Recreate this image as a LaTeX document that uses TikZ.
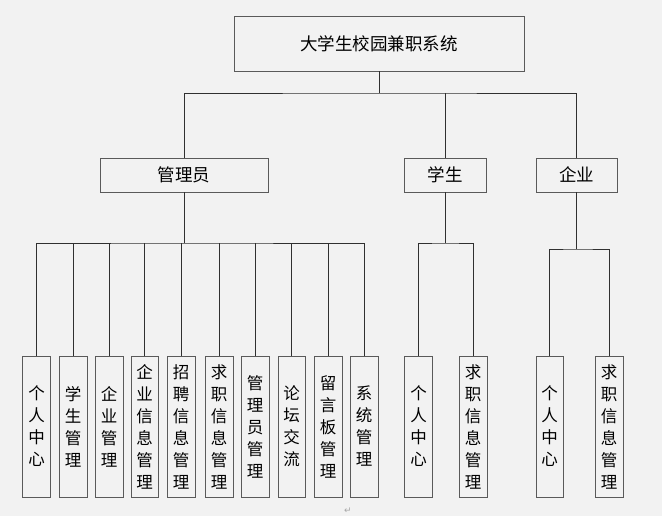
\documentclass[tikz,border=0pt]{standalone}
\usepackage{fontspec}
\setmainfont{Noto Sans CJK SC}
\newfontfamily\symfont{DejaVu Sans}
\definecolor{bg}{HTML}{F2F2F2}
\definecolor{boxline}{HTML}{5A5A5A}
\definecolor{conn}{HTML}{303030}
\begin{document}
\begin{tikzpicture}[x=1pt,y=1pt,
  box/.style={draw=boxline, line width=0.9pt, inner sep=0pt, align=center},
  head/.style={box, font=\fontsize{17.5}{20}\selectfont},
  leaf/.style={box, minimum width=28, minimum height=141, font=\fontsize{16.5}{22}\selectfont},
  conline/.style={draw=conn, line width=0.8pt}]
\fill[bg] (0,0) rectangle (662,-516);
\useasboundingbox (0,0) rectangle (662,-516);
% top
\node[head, minimum width=290, minimum height=55] (top) at (379,-43.5) {大学生校园兼职系统};
\node[head, minimum width=168, minimum height=34] (adm) at (184,-175) {管理员};
\node[head, minimum width=82, minimum height=34] (stu) at (445,-175) {学生};
\node[head, minimum width=81, minimum height=34] (ent) at (576.5,-175) {企业};
% admin leaves
\node[leaf] (a1) at (36.5,-426.5) {个\\人\\中\\心};
\node[leaf] (a2) at (73,-426.5) {学\\生\\管\\理};
\node[leaf] (a3) at (109,-426.5) {企\\业\\管\\理};
\node[leaf, minimum width=27] (a4) at (144.5,-426.5) {企\\业\\信\\息\\管\\理};
\node[leaf] (a5) at (181,-426.5) {招\\聘\\信\\息\\管\\理};
\node[leaf] (a6) at (219,-426.5) {求\\职\\信\\息\\管\\理};
\node[leaf] (a7) at (255,-426.5) {管\\理\\员\\管\\理};
\node[leaf, minimum width=27] (a8) at (291.5,-426.5) {论\\坛\\交\\流};
\node[leaf] (a9) at (328,-426.5) {留\\言\\板\\管\\理};
\node[leaf] (a10) at (364,-426.5) {系\\统\\管\\理};
% student leaves
\node[leaf] (s1) at (418.5,-426.5) {个\\人\\中\\心};
\node[leaf] (s2) at (473,-426.5) {求\\职\\信\\息\\管\\理};
% enterprise leaves
\node[leaf, minimum width=27] (e1) at (549.5,-426.5) {个\\人\\中\\心};
\node[leaf] (e2) at (609,-426.5) {求\\职\\信\\息\\管\\理};
% junctions
\coordinate (j0) at (379,-93);
\coordinate (ja) at (184,-243);
\coordinate (js) at (445,-243);
\coordinate (je) at (576.5,-249);
% connectors
\draw[conline] (top.south) -- (j0);
\draw[conline] (adm.north) |- (j0) -| (ent.north);
\draw[conline] (stu.north) -- (stu.north |- j0);
\draw[conline] (adm.south) -- (ja);
\draw[conline] (a1.north) |- (ja) -| (a10.north);
\foreach \n in {a2,a3,a4,a5,a6,a7,a8,a9} \draw[conline] (\n.north) -- (\n.north |- ja);
\draw[conline] (stu.south) -- (js);
\draw[conline] (s1.north) |- (js) -| (s2.north);
\draw[conline] (ent.south) -- (je);
\draw[conline] (e1.north) |- (je) -| (e2.north);
% paragraph mark
\node[text=gray!70, font=\symfont\fontsize{9}{10}\selectfont, inner sep=0pt] (pm) at (348,-511) {↵};
\end{tikzpicture}
\end{document}
